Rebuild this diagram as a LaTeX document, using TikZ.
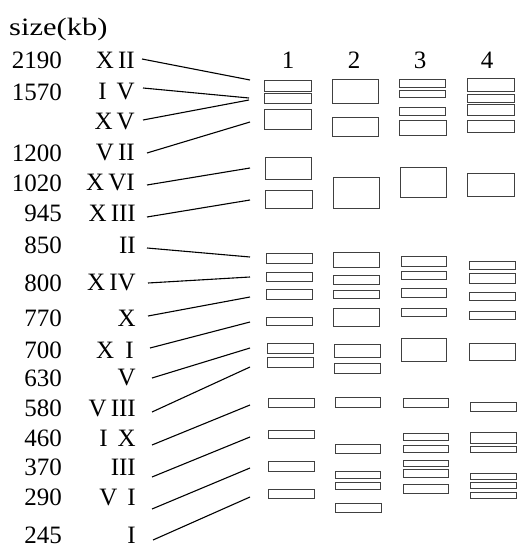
\documentclass[tikz,border=0pt]{standalone}
\usepackage{fontspec}
\setmainfont{Liberation Serif}
\usetikzlibrary{calc}
\begin{document}
\begin{tikzpicture}[x=1pt,y=-1pt,
  num/.style={anchor=east,inner sep=0pt,font=\fontsize{25}{25}\selectfont},
  rom/.style={anchor=east,inner sep=0pt,font=\fontsize{25}{25}\selectfont},
  hdr/.style={anchor=center,inner sep=0pt,font=\fontsize{25}{25}\selectfont},
  conn/.style={line width=1.1pt,black},
  band/.style={draw=black!75,line width=0.9pt}]
\useasboundingbox (0,0) rectangle (517,553);

\node[anchor=west,inner sep=0pt,font=\fontsize{25}{25}\selectfont] (title) at (9,29) {\scalebox{1.22}[1]{size(kb)}};

% column headers
\node[hdr] (h1) at (288,60) {1};
\node[hdr] (h2) at (354,60) {2};
\node[hdr] (h3) at (420,60) {3};
\node[hdr] (h4) at (487,60) {4};

% size labels
\node[num] (n1) at (62,60) {2190};
\node[num] (n2) at (62,92) {1570};
\node[num] (n4) at (62,153) {1200};
\node[num] (n5) at (62,183) {1020};
\node[num] (n6) at (62,213) {945};
\node[num] (n7) at (62,245) {850};
\node[num] (n8) at (62,283) {800};
\node[num] (n9) at (62,318) {770};
\node[num] (n10) at (62,350) {700};
\node[num] (n11) at (62,378) {630};
\node[num] (n12) at (62,408) {580};
\node[num] (n13) at (62,438) {460};
\node[num] (n14) at (62,467) {370};
\node[num] (n15) at (62,497) {290};
\node[num] (n16) at (62,535) {245};

% chromosome labels
\node[rom] (r1) at (135,60) {X\,II};
\node[rom] (r2) at (135,92) {I\hspace{0.4em}V};
\node[rom] (r3) at (135,122) {X\,V};
\node[rom] (r4) at (135,153) {V\,II};
\node[rom] (r5) at (135,183) {X\,VI};
\node[rom] (r6) at (136,213) {X\,III};
\node[rom] (r7) at (136,245) {II};
\node[rom] (r8) at (136,283) {X\,IV};
\node[rom] (r9) at (136,318) {X};
\node[rom] (r10) at (134,350) {X\hspace{0.45em}I};
\node[rom] (r11) at (136,378) {V};
\node[rom] (r12) at (136,408) {V\,III};
\node[rom] (r13) at (136,438) {I\hspace{0.4em}X};
\node[rom] (r14) at (136,467) {III};
\node[rom] (r15) at (136,497) {V\hspace{0.4em}I};
\node[rom] (r16) at (136,535) {I};

% connector ends
\coordinate (e1) at (250,80);
\coordinate (e2) at (249,98);
\coordinate (e3) at (249,100);
\coordinate (e4) at (250,122);
\coordinate (e5) at (250,168);
\coordinate (e6) at (250,200);
\coordinate (e7) at (250,257);
\coordinate (e8) at (250,277);
\coordinate (e9) at (250,297);
\coordinate (e10) at (250,322);
\coordinate (e11) at (250,348);
\coordinate (e12) at (250,367);
\coordinate (e13) at (250,405);
\coordinate (e14) at (250,437);
\coordinate (e15) at (250,468);
\coordinate (e16) at (250,497);

\draw[conn] ([xshift=7pt,yshift=1pt]r1.east) -- (e1);
\draw[conn] ([xshift=8pt,yshift=4pt]r2.east) -- (e2);
\draw[conn] ([xshift=8pt,yshift=2pt]r3.east) -- (e3);
\draw[conn] ([xshift=12pt]r4.east) -- (e4);
\draw[conn] ([xshift=12pt,yshift=-2pt]r5.east) -- (e5);
\draw[conn] ([xshift=11pt,yshift=-4pt]r6.east) -- (e6);
\draw[conn] ([xshift=11pt,yshift=-3pt]r7.east) -- (e7);
\draw[conn] ([xshift=12pt]r8.east) -- (e8);
\draw[conn] ([xshift=12pt,yshift=2pt]r9.east) -- (e9);
\draw[conn] ([xshift=16pt,yshift=2pt]r10.east) -- (e10);
\draw[conn] ([xshift=16pt]r11.east) -- (e11);
\draw[conn] ([xshift=16pt,yshift=-4pt]r12.east) -- (e12);
\draw[conn] ([xshift=16pt,yshift=-7pt]r13.east) -- (e13);
\draw[conn] ([xshift=16pt,yshift=-10pt]r14.east) -- (e14);
\draw[conn] ([xshift=16pt,yshift=-12pt]r15.east) -- (e15);
\draw[conn] ([xshift=17pt,yshift=-5pt]r16.east) -- (e16);

% lane 1
\foreach \a/\b/\c/\d in {264/80/311/91.5, 264/93.5/311/103, 264/109/311/129,
  265/157/311/179, 265/190/312/208, 266/253/312/263, 266/272/312/281,
  266/289/312/299, 266/317/312/325, 267/343/313/353, 267/357/313/367,
  268/398/314/407, 268/430/314/438, 268/461/314/471, 268/489/314/498}
  \draw[band] (\a,\b) rectangle (\c,\d);
% lane 2
\foreach \a/\b/\c/\d in {332/79/378/103, 332/117/378/136, 333/177/379/208,
  333/252/379/267, 333/275/379/284, 333/290/379/298, 333/308/379/326,
  334/344/380/357, 334/363/380/373, 335/397/380/407, 335/444/380/453,
  335/471/380/478, 335/482/380/489, 335/503/381/512}
  \draw[band] (\a,\b) rectangle (\c,\d);
% lane 3
\foreach \a/\b/\c/\d in {399/79/445/87, 399/90/445/97, 399/107/445/115,
  399/120/446/135, 400/167/446/197, 401/256/446/266, 401/271/446/279,
  401/288/446/297, 401/308/446/316, 401/338/446/361, 403/398/448/407,
  403/433/448/440, 403/445/448/452, 403/460/448/466, 403/469/448/477,
  403/484/448/493}
  \draw[band] (\a,\b) rectangle (\c,\d);
% lane 4
\foreach \a/\b/\c/\d in {467/78/514/91, 467/94/514/102, 467/104/514/115,
  467/120/514/132, 467/173/514/196, 469/261/515/269, 469/273/515/283,
  469/292/515/300, 469/311/515/319, 469/343/515/360, 470/402/516/411,
  470/432/516/443, 470/446/516/452, 470/473/516/479, 470/482/516/488,
  470/492/516/498}
  \draw[band] (\a,\b) rectangle (\c,\d);
\end{tikzpicture}
\end{document}
